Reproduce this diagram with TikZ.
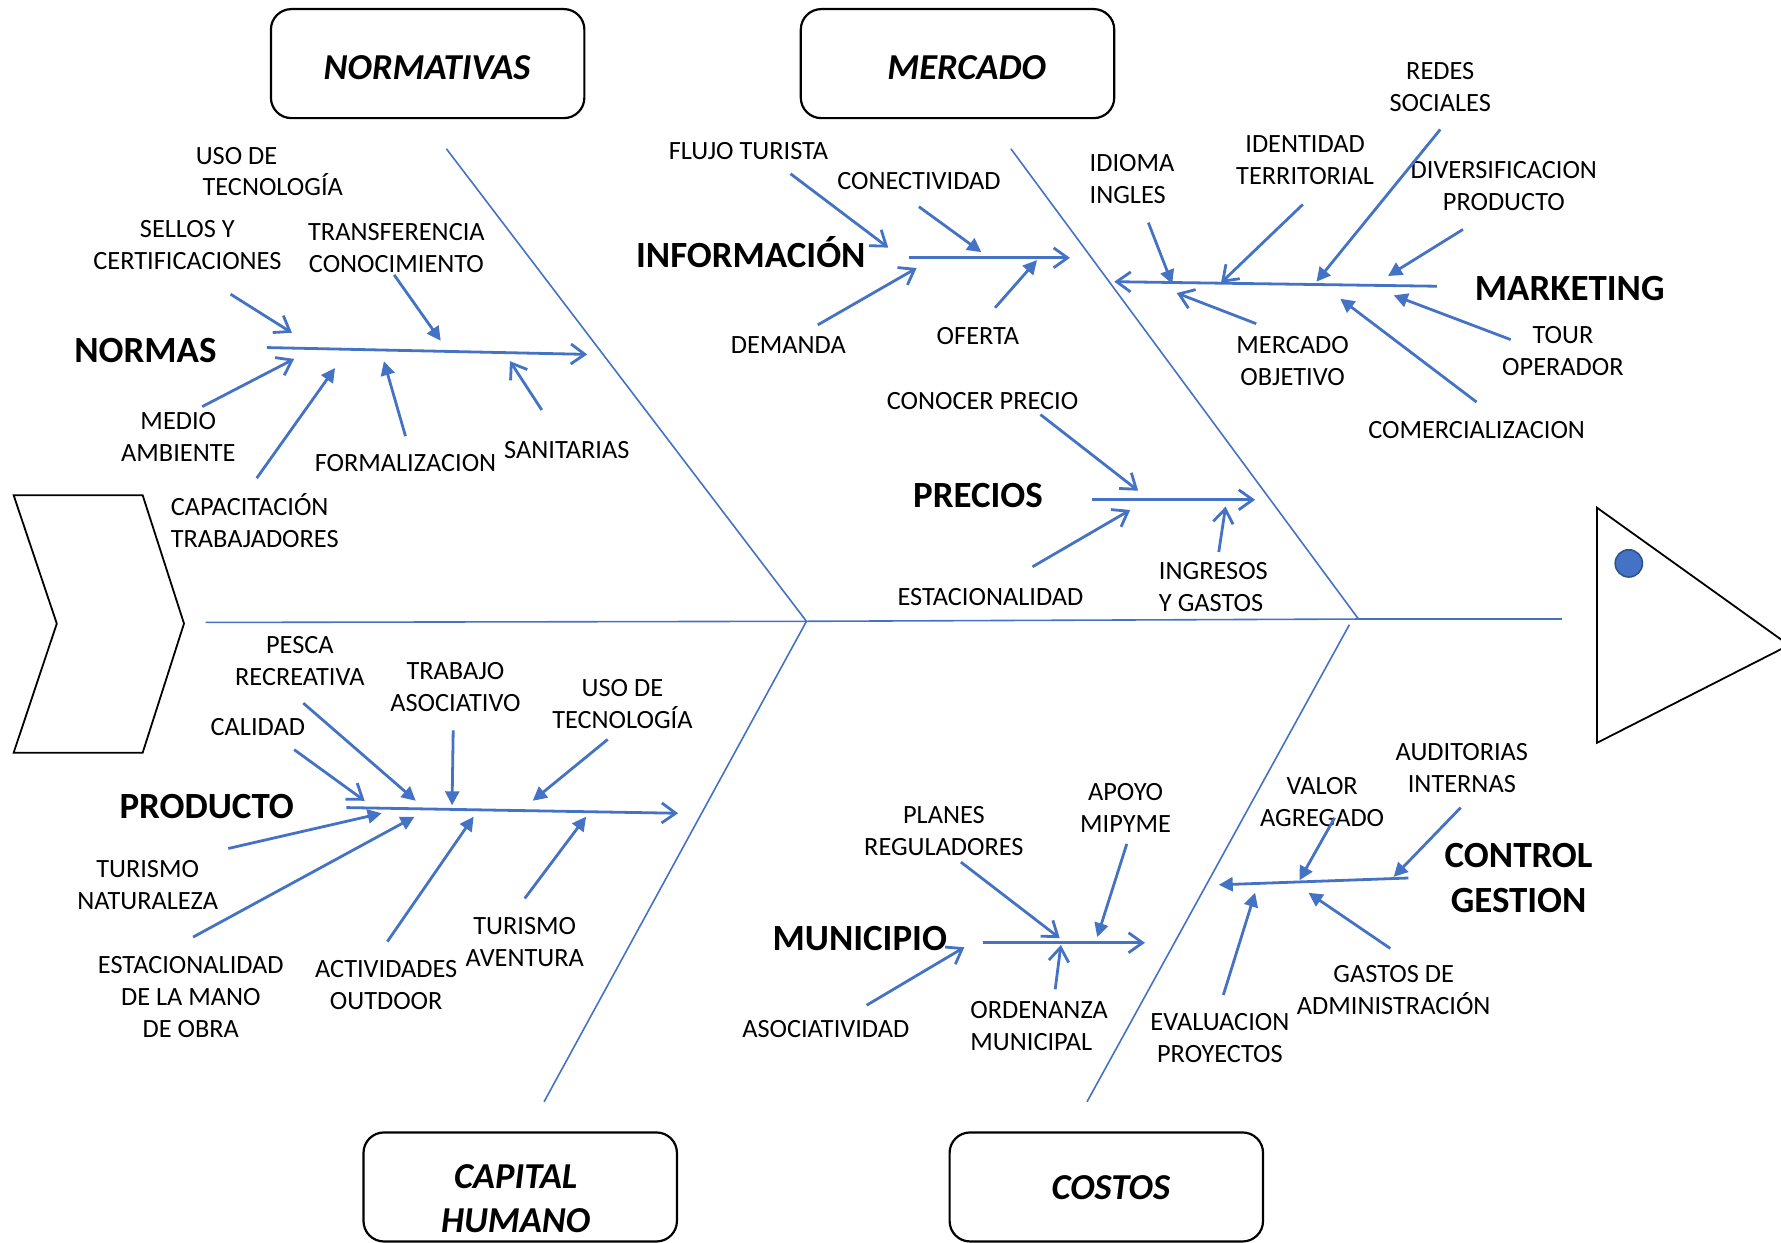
\documentclass[tikz,border=0pt]{standalone}
\usepackage{fontspec}
\setmainfont{Carlito}
\usetikzlibrary{arrows.meta}
\definecolor{fishblue}{HTML}{4472C4}
\definecolor{dotedge}{HTML}{2F528F}

\begin{document}
\begin{tikzpicture}[x=0.02cm,y=-0.02cm,
    lbl/.style={font=\fontsize{13.2}{16}\selectfont,align=center,inner sep=0pt},
    lbll/.style={lbl,align=left,anchor=west},
    cat/.style={font=\fontsize{18.5}{22.2}\selectfont\bfseries,align=center,inner sep=0pt},
    catbox/.style={draw,line width=1.1pt,rounded corners=0.36cm,minimum width=5.52cm,minimum height=1.92cm},
    boxtext/.style={font=\fontsize{18.3}{22.2}\selectfont\bfseries\itshape,align=center,inner sep=0pt},
    rib/.style={fishblue,line width=0.8pt},
    branch/.style={fishblue,line width=1.4pt},
    openarr/.style={branch,-{Straight Barb[length=7pt,width=10pt]}},
    solidarr/.style={branch,-{Triangle[length=7pt,width=7pt]}}]
    \useasboundingbox (0,0) rectangle (1568,1094);
    \clip (0,0) rectangle (1568,1094);

    % head, tail and spine
    \draw[line width=0.9pt] (12,436) -- (125.6,436) -- (162,549) -- (125.6,662.7) -- (12,662.7) -- (50,549) -- cycle;
    \draw[line width=0.9pt] (1406,447) -- (1575,568) -- (1406,654) -- cycle;
    \draw[dotedge,fill=fishblue,line width=0.8pt] (1434,496) circle[radius=0.24cm];

    \coordinate (tail) at (181,548);
    \coordinate (j1) at (710,547);
    \coordinate (j2) at (1196,545);
    \coordinate (j3) at (1188,550);
    \coordinate (head) at (1375,545);
    \coordinate (r1) at (393,131);
    \coordinate (r2) at (890,131);
    \coordinate (r3) at (479,970);
    \coordinate (r4) at (957,970);
    \draw[rib] (tail) -- (j1) -- (j2) -- (head);
    \draw[rib] (r1) -- (j1) -- (r3);
    \draw[rib] (r2) -- (j2);
    \draw[rib] (j3) -- (r4);

    % boxes
    \node (normativas) at (376.5,56) [catbox] {};
    \node (mercado) at (843,56) [catbox] {};
    \node (caphum) at (458,1045) [catbox] {};
    \node (costos) at (974,1045) [catbox] {};
    \node (normativastxt) at (376,60) [boxtext] {NORMATIVAS};
    \node (mercadotxt) at (851,60) [boxtext] {MERCADO};
    \node (caphumtxt) at (454,1055) [boxtext] {CAPITAL\\HUMANO};
    \node (costostxt) at (978,1046) [boxtext] {COSTOS};

    % normas
    \node (normas) at (128,309) [cat] {NORMAS};
    \node (usoN) at (172,151) [lbll] {USO DE\\\hspace*{0.12cm}TECNOLOGÍA};
    \node (sellos) at (165,216) [lbl] {SELLOS Y\\CERTIFICACIONES};
    \node (transf) at (349,218) [lbl] {TRANSFERENCIA\\CONOCIMIENTO};
    \node (medio) at (157,385) [lbl] {MEDIO\\AMBIENTE};
    \node (capac) at (150,458) [lbll] {CAPACITACIÓN\\TRABAJADORES};
    \node (formal) at (357,408) [lbl] {FORMALIZACION};
    \node (sanit) at (499,396) [lbl] {SANITARIAS};
    \coordinate (nor-s) at (235,306); \coordinate (nor-e) at (517,312);
    \coordinate (sel-a) at (203,259); \coordinate (sel-b) at (257,293);
    \coordinate (tra-a) at (347,242); \coordinate (tra-b) at (388,300);
    \coordinate (med-a) at (178,358); \coordinate (med-b) at (259,316);
    \coordinate (cap-a) at (226,421); \coordinate (cap-b) at (295,324);
    \coordinate (for-a) at (357,384); \coordinate (for-b) at (338,318);
    \coordinate (san-a) at (477,361); \coordinate (san-b) at (449,318);
    \draw[openarr] (nor-s) -- (nor-e);
    \draw[openarr] (sel-a) -- (sel-b);
    \draw[solidarr] (tra-a) -- (tra-b);
    \draw[openarr] (med-a) -- (med-b);
    \draw[solidarr] (cap-a) -- (cap-b);
    \draw[solidarr] (for-a) -- (for-b);
    \draw[openarr] (san-a) -- (san-b);

    % informacion
    \node (informacion) at (661,222) [cat] {INFORMACIÓN};
    \node (flujo) at (659,133) [lbl] {FLUJO TURISTA};
    \node (conect) at (809,159) [lbl] {CONECTIVIDAD};
    \node (demanda) at (694,304) [lbl] {DEMANDA};
    \node (oferta) at (861,296) [lbl] {OFERTA};
    \coordinate (inf-s) at (800,227); \coordinate (inf-e) at (942,227);
    \coordinate (flu-a) at (696,153); \coordinate (flu-b) at (782,218);
    \coordinate (con-a) at (809,182); \coordinate (con-b) at (864,222);
    \coordinate (dem-a) at (720,286); \coordinate (dem-b) at (807,236);
    \coordinate (ofe-a) at (876,271); \coordinate (ofe-b) at (913,229);
    \draw[openarr] (inf-s) -- (inf-e);
    \draw[openarr] (flu-a) -- (flu-b);
    \draw[solidarr] (con-a) -- (con-b);
    \draw[openarr] (dem-a) -- (dem-b);
    \draw[solidarr] (ofe-a) -- (ofe-b);

    % marketing
    \node (marketing) at (1382,254) [cat] {MARKETING};
    \node (idioma) at (959,158) [lbll] {IDIOMA\\INGLES};
    \node (identidad) at (1149,141) [lbl] {IDENTIDAD\\TERRITORIAL};
    \node (redes) at (1268,77) [lbl] {REDES\\SOCIALES};
    \node (divers) at (1324,164) [lbl] {DIVERSIFICACION\\PRODUCTO};
    \node (merobj) at (1138,318) [lbl] {MERCADO\\OBJETIVO};
    \node (tour) at (1376,309) [lbl] {TOUR\\OPERADOR};
    \node (comerc) at (1300,379) [lbl] {COMERCIALIZACION};
    \coordinate (mkt-s) at (1265,252); \coordinate (mkt-e) at (981,248);
    \coordinate (idi-a) at (1011,196); \coordinate (idi-b) at (1032,250);
    \coordinate (ide-a) at (1147,180); \coordinate (ide-b) at (1075,249);
    \coordinate (red-a) at (1268,114); \coordinate (red-b) at (1159,248);
    \coordinate (div-a) at (1288,202); \coordinate (div-b) at (1222,243);
    \coordinate (mob-a) at (1106,285); \coordinate (mob-b) at (1036,258);
    \coordinate (tou-a) at (1330,299); \coordinate (tou-b) at (1227,260);
    \coordinate (com-a) at (1300,354); \coordinate (com-b) at (1180,263);
    \draw[openarr] (mkt-s) -- (mkt-e);
    \draw[solidarr] (idi-a) -- (idi-b);
    \draw[openarr] (ide-a) -- (ide-b);
    \draw[solidarr] (red-a) -- (red-b);
    \draw[solidarr] (div-a) -- (div-b);
    \draw[openarr] (mob-a) -- (mob-b);
    \draw[solidarr] (tou-a) -- (tou-b);
    \draw[solidarr] (com-a) -- (com-b);

    % precios
    \node (precios) at (861,436) [cat] {PRECIOS};
    \node (conocer) at (865,353) [lbl] {CONOCER PRECIO};
    \node (estac) at (872,526) [lbl] {ESTACIONALIDAD};
    \node (ingresos) at (1020,517) [lbll] {INGRESOS\\Y GASTOS};
    \coordinate (pre-s) at (961,440); \coordinate (pre-e) at (1105,440);
    \coordinate (cpr-a) at (916,365); \coordinate (cpr-b) at (1002,432);
    \coordinate (est-a) at (909,499); \coordinate (est-b) at (995,449);
    \coordinate (ing-a) at (1073,486); \coordinate (ing-b) at (1079,446);
    \draw[openarr] (pre-s) -- (pre-e);
    \draw[openarr] (cpr-a) -- (cpr-b);
    \draw[openarr] (est-a) -- (est-b);
    \draw[openarr] (ing-a) -- (ing-b);

    % producto
    \node (producto) at (182,710) [cat] {PRODUCTO};
    \node (pesca) at (264,582) [lbl] {PESCA\\RECREATIVA};
    \node (trabajo) at (401,605) [lbl] {TRABAJO\\ASOCIATIVO};
    \node (usoP) at (548,620) [lbl] {USO DE\\TECNOLOGÍA};
    \node (calidad) at (227,640) [lbl] {CALIDAD};
    \node (turnat) at (130,779) [lbl] {TURISMO\\NATURALEZA};
    \node (estmano) at (168,878) [lbl] {ESTACIONALIDAD\\DE LA MANO\\DE OBRA};
    \node (activ) at (340,867) [lbl] {ACTIVIDADES\\OUTDOOR};
    \node (turave) at (462,829) [lbl] {TURISMO\\AVENTURA};
    \coordinate (pro-s) at (305,711); \coordinate (pro-e) at (597,716);
    \coordinate (pes-a) at (267,619); \coordinate (pes-b) at (366,705);
    \coordinate (tab-a) at (399,643); \coordinate (tab-b) at (398,709);
    \coordinate (uso-a) at (535,651); \coordinate (uso-b) at (469,705);
    \coordinate (cal-a) at (259,660); \coordinate (cal-b) at (321,705);
    \coordinate (tna-a) at (201,747); \coordinate (tna-b) at (336,716);
    \coordinate (emo-a) at (170,825); \coordinate (emo-b) at (365,719);
    \coordinate (act-a) at (341,829); \coordinate (act-b) at (417,719);
    \coordinate (tav-a) at (462,791); \coordinate (tav-b) at (516,719);
    \draw[openarr] (pro-s) -- (pro-e);
    \draw[solidarr] (pes-a) -- (pes-b);
    \draw[solidarr] (tab-a) -- (tab-b);
    \draw[solidarr] (uso-a) -- (uso-b);
    \draw[openarr] (cal-a) -- (cal-b);
    \draw[solidarr] (tna-a) -- (tna-b);
    \draw[solidarr] (emo-a) -- (emo-b);
    \draw[solidarr] (act-a) -- (act-b);
    \draw[solidarr] (tav-a) -- (tav-b);

    % municipio
    \node (municipio) at (757,826) [cat] {MUNICIPIO};
    \node (planes) at (831,732) [lbl] {PLANES\\REGULADORES};
    \node (apoyo) at (991,711) [lbl] {APOYO\\MIPYME};
    \node (asoc) at (727,906) [lbl] {ASOCIATIVIDAD};
    \node (ordenanza) at (854,903) [lbll] {ORDENANZA\\MUNICIPAL};
    \coordinate (mun-s) at (865,830); \coordinate (mun-e) at (1008,830);
    \coordinate (pla-a) at (846,759); \coordinate (pla-b) at (933,826);
    \coordinate (apo-a) at (992,743); \coordinate (apo-b) at (966,825);
    \coordinate (aso-a) at (763,885); \coordinate (aso-b) at (849,834);
    \coordinate (ord-a) at (929,871); \coordinate (ord-b) at (934,832);
    \draw[openarr] (mun-s) -- (mun-e);
    \draw[openarr] (pla-a) -- (pla-b);
    \draw[solidarr] (apo-a) -- (apo-b);
    \draw[openarr] (aso-a) -- (aso-b);
    \draw[openarr] (ord-a) -- (ord-b);

    % control gestion
    \node (control) at (1337,773) [cat] {CONTROL\\GESTION};
    \node (valor) at (1164,706) [lbl] {VALOR\\AGREGADO};
    \node (audit) at (1287,676) [lbl] {AUDITORIAS\\INTERNAS};
    \node (evalua) at (1074,914) [lbl] {EVALUACION\\PROYECTOS};
    \node (gastos) at (1227,872) [lbl] {GASTOS DE\\ADMINISTRACIÓN};
    \coordinate (ctl-s) at (1240,773); \coordinate (ctl-e) at (1073,779);
    \coordinate (val-a) at (1175,720); \coordinate (val-b) at (1144,775);
    \coordinate (aud-a) at (1286,711); \coordinate (aud-b) at (1227,772);
    \coordinate (eva-a) at (1077,876); \coordinate (eva-b) at (1105,786);
    \coordinate (gas-a) at (1224,835); \coordinate (gas-b) at (1152,786);
    \draw[solidarr] (ctl-s) -- (ctl-e);
    \draw[solidarr] (val-a) -- (val-b);
    \draw[solidarr] (aud-a) -- (aud-b);
    \draw[solidarr] (eva-a) -- (eva-b);
    \draw[solidarr] (gas-a) -- (gas-b);
\end{tikzpicture}
\end{document}
